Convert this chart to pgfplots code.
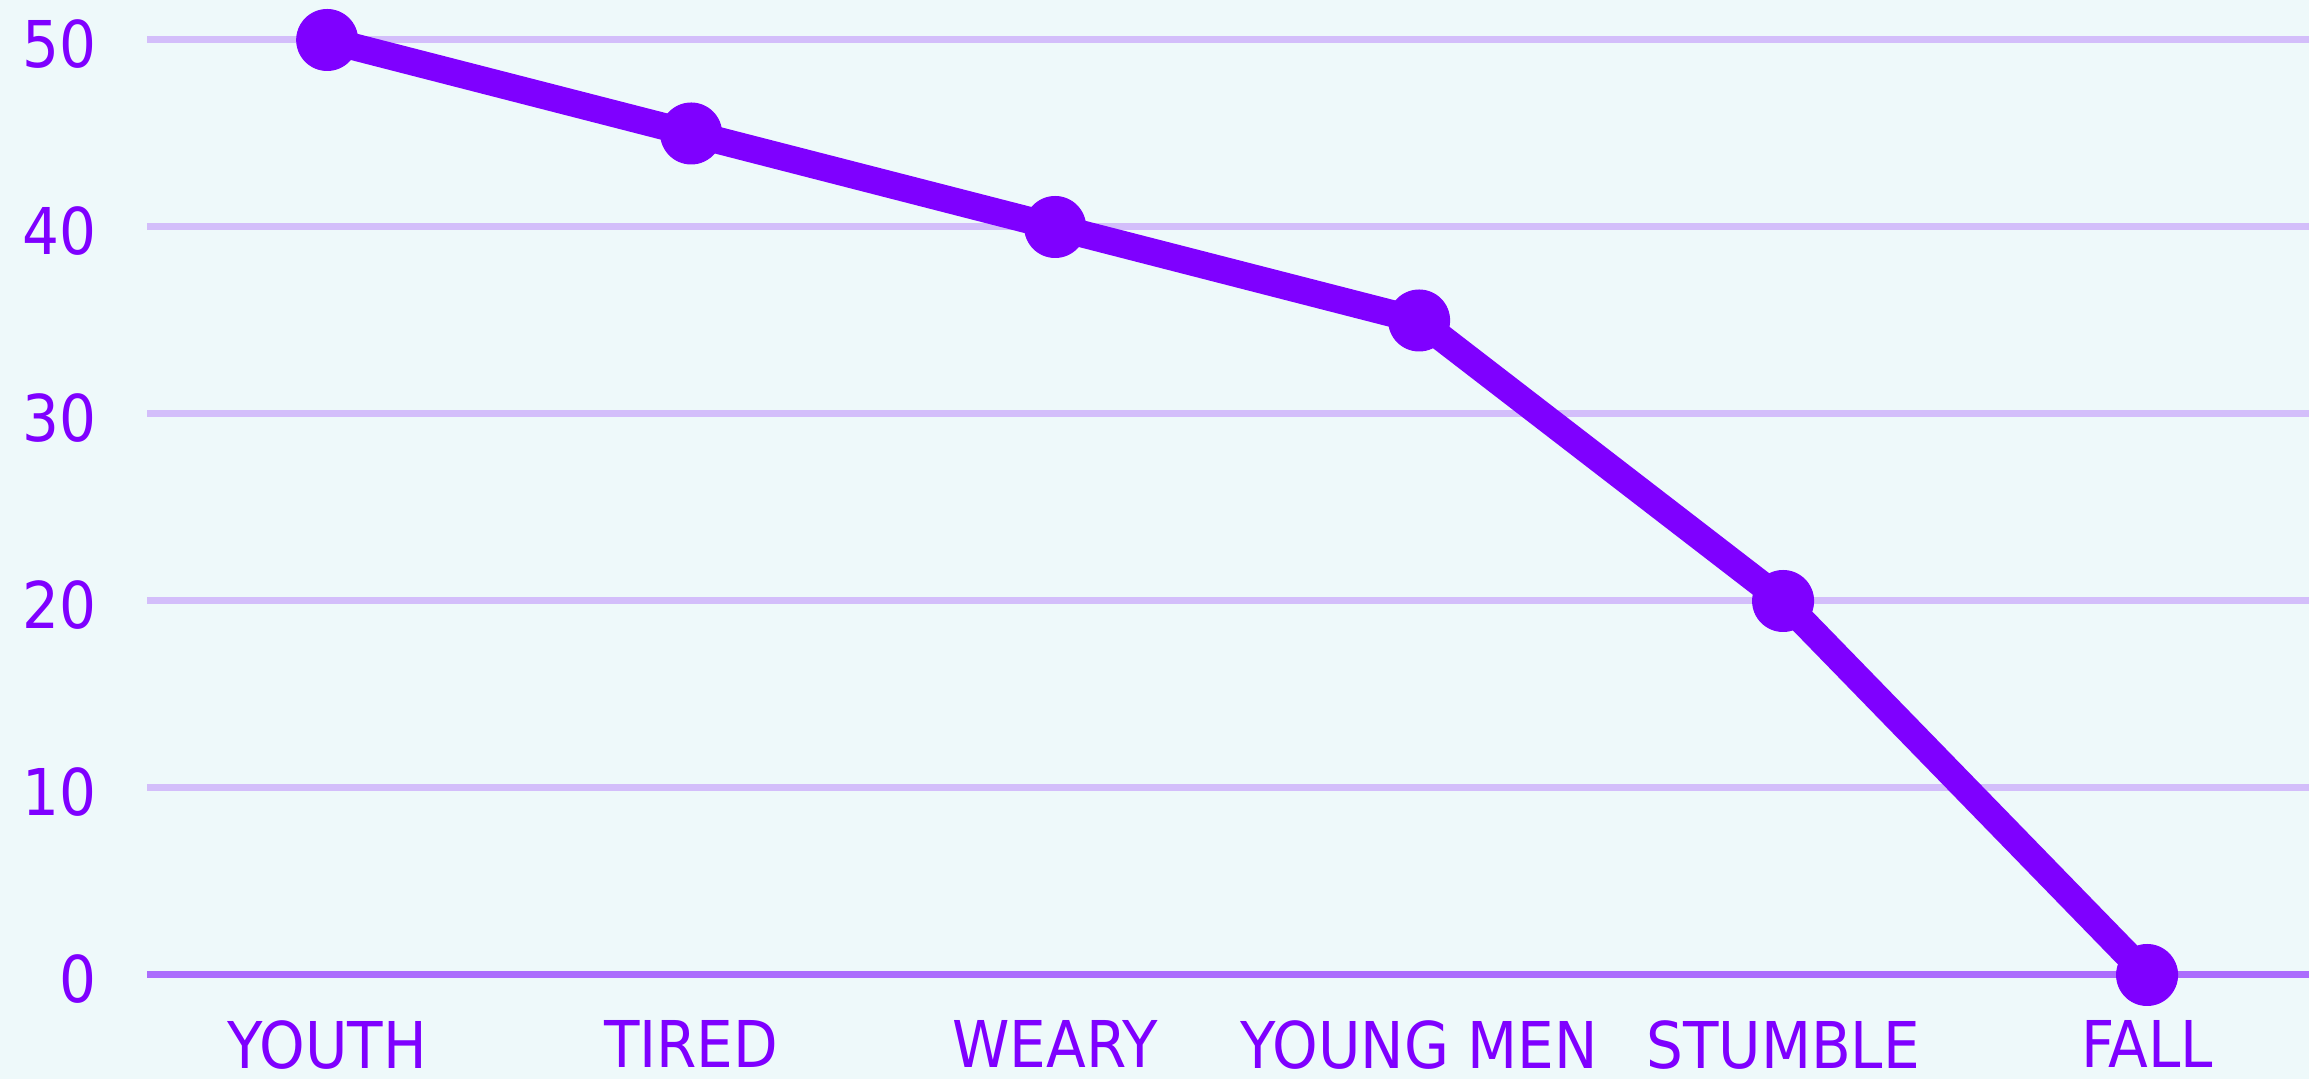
\documentclass[border=0pt]{standalone}
\usepackage{fontspec}
\setmainfont{DejaVu Sans Condensed}
\usepackage{pgfplots}
\pgfplotsset{compat=1.18}
\definecolor{bg}{HTML}{EEF9FA}
\definecolor{vio}{HTML}{7F00FF}
\definecolor{gridc}{HTML}{D3BEFA}
\definecolor{zeroc}{HTML}{AB6DFD}
\begin{document}
\begin{tikzpicture}
\fill[bg] (0,0) rectangle (461.8pt,215.8pt);
\begin{axis}[
  at={(29.4pt,20.8pt)}, anchor=south west,
  scale only axis, width=432.4pt, height=187pt,
  xmin=-0.495, xmax=5.445, ymin=0, ymax=50,
  clip=false,
  axis line style={draw=none},
  major tick length=0pt,
  xtick={0,1,2,3,4,5},
  xticklabels={YOUTH,TIRED,WEARY,YOUNG MEN,STUMBLE,FALL},
  ytick={10,20,30,40,50},
  extra y ticks={0},
  extra y tick style={grid style={color=zeroc, line width=1.4pt}},
  ymajorgrids,
  grid style={color=gridc, line width=1.4pt},
  /pgf/number format/assume math mode=true,
  ticklabel style={font=\fontsize{12.9}{14}\selectfont, text=vio},
  yticklabel style={anchor=east, inner sep=0pt, xshift=-10pt, yshift=-0.8pt},
  xticklabel style={anchor=north, inner sep=0pt, yshift=-8.9pt},
]
\addplot[color=vio, line width=5.4pt, line join=round, mark=*, mark size=6.1pt,
  mark options={line width=0.2pt, draw=vio, fill=vio}]
  coordinates {(0,50) (1,45) (2,40) (3,35) (4,20) (5,0)};
\end{axis}
\pgfresetboundingbox
\path (0,0) rectangle (461.8pt,215.8pt);
\end{tikzpicture}
\end{document}
